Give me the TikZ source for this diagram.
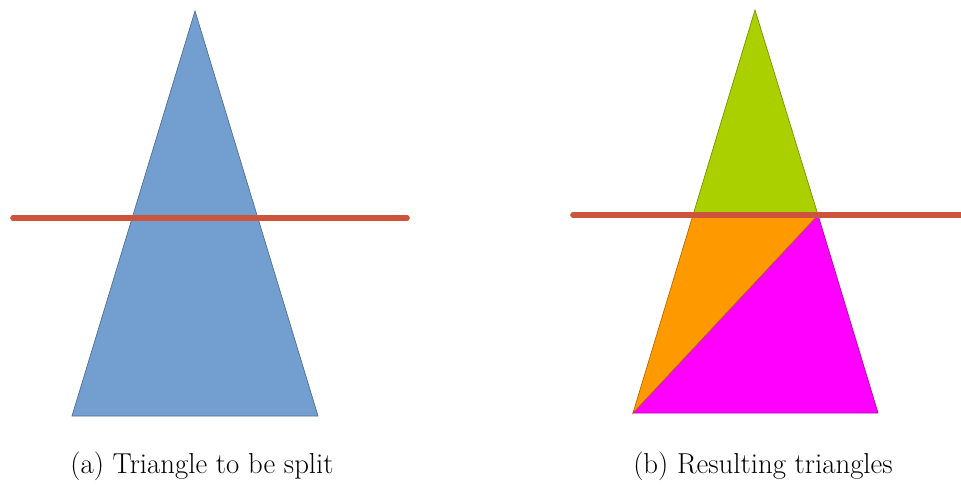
\documentclass[tikz,border=0pt]{standalone}
\usetikzlibrary{calc}
\definecolor{triblue}{RGB}{114,159,207}
\definecolor{trigreen}{RGB}{170,208,0}
\definecolor{triorange}{RGB}{255,153,0}
\definecolor{trimagenta}{RGB}{255,0,255}
\definecolor{cutred}{RGB}{204,84,60}
\tikzset{
  cutline/.style={draw=cutred, line width=3.2pt, line cap=round},
  piece/.style={draw=#1!70!black, line width=0.4pt, fill=#1},
  caption/.style={font=\fontsize{16.4pt}{19pt}\selectfont},
}
\begin{document}
\begin{tikzpicture}[x=0.02cm, y=-0.02cm]
  \useasboundingbox (0,0) rectangle (961,484);
  % (a) triangle to be split
  \coordinate (atop) at (195,11);
  \coordinate (aleft) at (72,416);
  \coordinate (aright) at (318,416);
  \path[piece=triblue] (atop) -- (aright) -- (aleft) -- cycle;
  \coordinate (acutl) at (13,218);
  \coordinate (acutr) at (407,218);
  \draw[cutline] (acutl) -- (acutr);
  \node[caption] (capa) at (202,466) {(a) Triangle to be split};
  % (b) resulting triangles
  \coordinate (btop) at (755,10);
  \coordinate (bleft) at (633,413);
  \coordinate (bright) at (878,413);
  \coordinate (bsl) at (693,215);
  \coordinate (bsr) at (818,215);
  \path[piece=trimagenta] (bsr) -- (bright) -- (bleft) -- cycle;
  \path[piece=triorange] (bsl) -- (bsr) -- (bleft) -- cycle;
  \path[piece=trigreen] (btop) -- (bsr) -- (bsl) -- cycle;
  \coordinate (bcutl) at (573,215);
  \coordinate (bcutr) at (970,215);
  \draw[cutline] (bcutl) -- (bcutr);
  \node[caption] (capb) at (763,466) {(b) Resulting triangles};
\end{tikzpicture}
\end{document}
